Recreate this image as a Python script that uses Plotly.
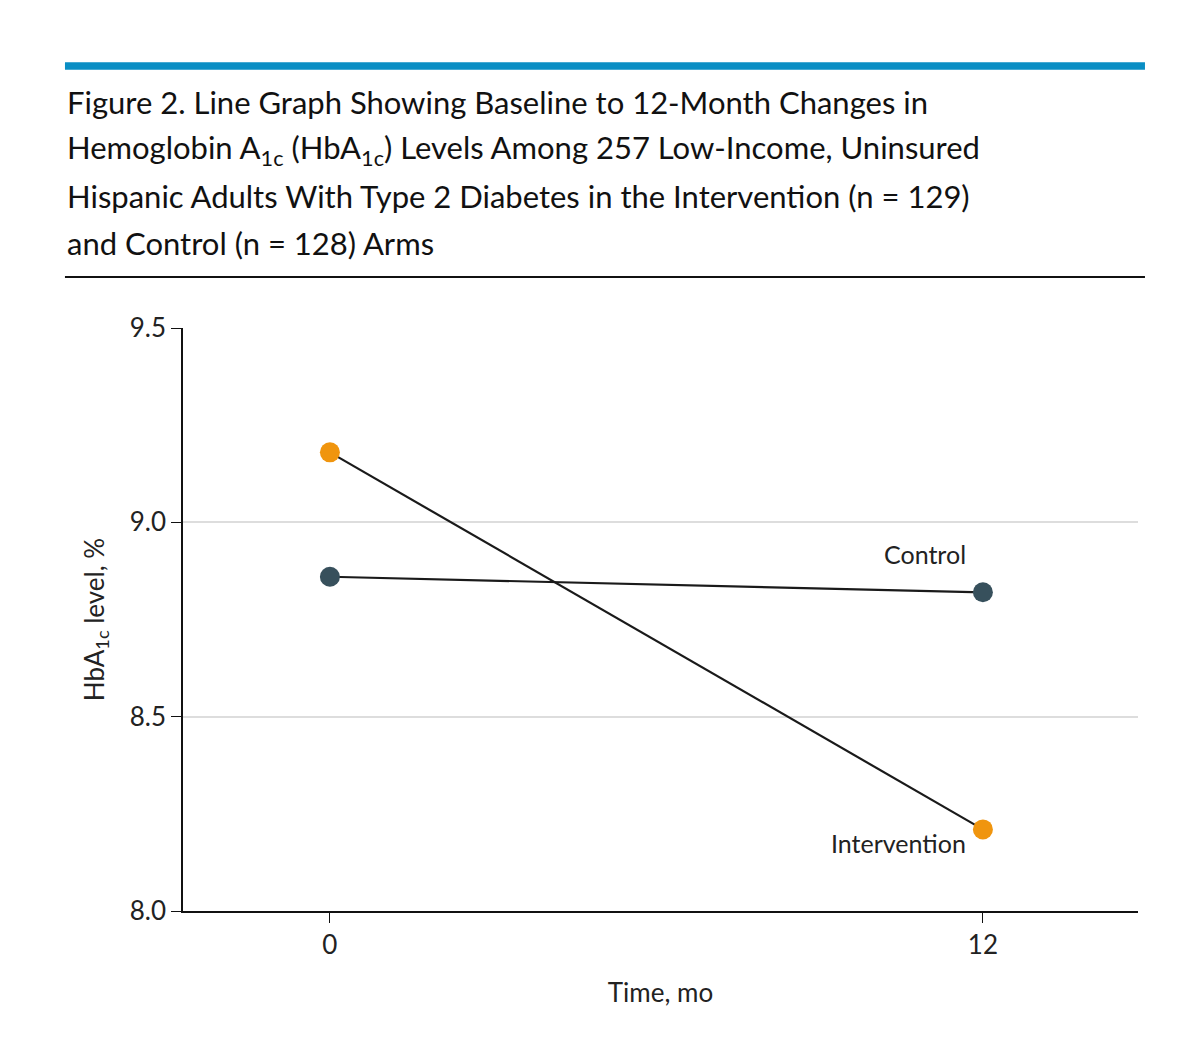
import plotly.graph_objects as go

months = [0, 12]
intervention = [9.18, 8.21]
control = [8.86, 8.82]
y_ticks = [8.0, 8.5, 9.0, 9.5]
title_lines = [
    "Figure 2. Line Graph Showing Baseline to 12-Month Changes in",
    "Hemoglobin A<sub>1c</sub> (HbA<sub>1c</sub>) Levels Among 257 Low-Income, Uninsured",
    "Hispanic Adults With Type 2 Diabetes in the Intervention (n = 129)",
    "and Control (n = 128) Arms",
]

FONT = "Lato"
fig = go.Figure()

for vals, color, name in [(control, "#37505C", "Control"), (intervention, "#F0950E", "Intervention")]:
    fig.add_trace(go.Scatter(
        x=months, y=vals, mode="lines+markers", name=name,
        line=dict(color="#1a1a1a", width=2.2),
        marker=dict(color=color, size=20),
        showlegend=False,
    ))

fig.add_annotation(x=months[1], y=control[1], text="Control", xshift=-15, yshift=38,
                   xanchor="right", showarrow=False, font=dict(size=25, color="#222", family=FONT))
fig.add_annotation(x=months[1], y=intervention[1], text="Intervention", xshift=-15, yshift=-14,
                   xanchor="right", showarrow=False, font=dict(size=25, color="#222", family=FONT))

# title lines, one annotation each to match line spacing
for i, line in enumerate(title_lines):
    ypix = 102 + 47 * i
    fig.add_annotation(xref="paper", yref="paper", x=-0.1236, y=(911 - ypix) / 583,
                       xanchor="left", yanchor="middle", align="left", text=line,
                       showarrow=False, font=dict(size=31, color="#111", family=FONT))

fig.add_shape(type="rect", xref="paper", yref="paper", x0=-0.1236, x1=1.0073, y0=1.443, y1=1.456,
              fillcolor="#0A8EC4", line=dict(width=0))
fig.add_shape(type="line", xref="paper", yref="paper", x0=-0.1236, x1=1.0073, y0=1.0875, y1=1.0875,
              line=dict(color="#111", width=2))

fig.update_layout(
    width=1200, height=1040,
    margin=dict(l=175, r=70, t=320, b=137),
    plot_bgcolor="white", paper_bgcolor="white",
    font=dict(family=FONT, size=26, color="#222"),
)
fig.update_xaxes(range=[-2.7, 14.85], tickvals=months, showgrid=False, zeroline=False,
                 showline=True, linecolor="#111", linewidth=1.5, ticks="outside", ticklen=10,
                 tickcolor="#111", tickfont=dict(size=26),
                 title=dict(text="Time, mo", standoff=25, font=dict(size=26)))
fig.update_yaxes(range=[8.0, 9.5], tickvals=y_ticks, tickformat=".1f", showgrid=True,
                 gridcolor="#dddddd", gridwidth=2, zeroline=False, showline=True, linecolor="#111",
                 linewidth=1.5, ticks="outside", ticklen=10, tickcolor="#111",
                 tickfont=dict(size=26),
                 title=dict(text="HbA<sub>1c</sub> level, %", standoff=18, font=dict(size=26)))

fig.write_html("out.html")
